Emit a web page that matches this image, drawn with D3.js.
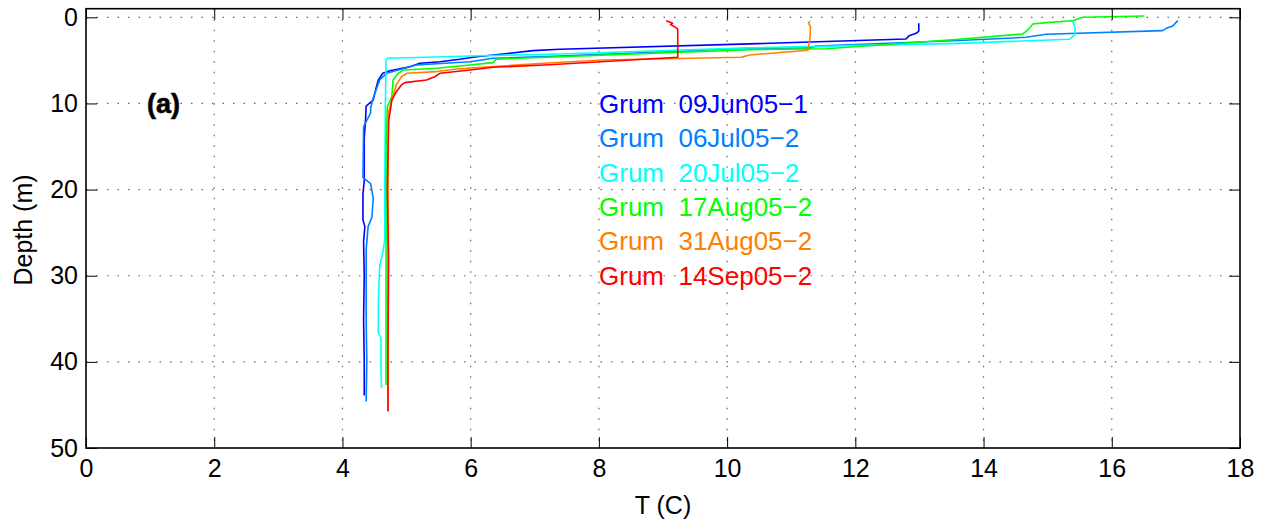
<!DOCTYPE html>
<html>
<head>
<meta charset="utf-8">
<script src="https://cdn.jsdelivr.net/npm/d3@7"></script>
<style>
  body { margin: 0; background: #fff; }
  svg text { font-family: "Liberation Sans", Arial, sans-serif; }
</style>
</head>
<body>
<svg id="chart" width="1263" height="524"></svg>
<script>
// profile data: [temperature (C), depth (m)], surface to bottom
const cast09Jun = [[12.99,0.7],[12.99,1.6],[12.95,1.86],[12.84,2.13],[12.79,2.52],[10.35,3.08],[7.39,3.71],[6.97,3.87],[6.61,4.18],[6.09,4.57],[5.83,4.87],[5.52,5.15],[5.21,5.34],[5.05,5.73],[4.74,6.2],[4.63,6.5],[4.56,7.27],[4.53,8.05],[4.48,9.6],[4.37,10.3],[4.36,12],[4.34,14],[4.34,19],[4.32,20.5],[4.32,23.5],[4.35,24.3],[4.33,26],[4.34,30],[4.33,35],[4.34,40],[4.34,43.9]];
const cast06Jul = [[17.03,0.39],[16.95,1.01],[16.85,1.28],[16.79,1.55],[14.98,1.97],[14.66,2.32],[13.62,2.7],[11.39,3.33],[11.3,3.55],[10.35,3.6],[7.39,4.5],[6.35,4.76],[5.99,5.15],[5.15,5.53],[4.69,6.5],[4.58,7.27],[4.48,9.4],[4.44,10.5],[4.44,11.1],[4.33,12.7],[4.32,18.6],[4.44,19.3],[4.48,21],[4.46,23.2],[4.40,24.3],[4.37,27],[4.37,35],[4.38,40],[4.37,44.6]];
const cast20Jul = [[15.34,0.31],[15.39,0.51],[15.43,1.28],[15.42,2.05],[15.34,2.55],[13.62,3.02],[10.35,3.55],[7.39,4.26],[5.99,4.49],[5.31,4.64],[4.70,4.76],[4.68,5.03],[4.67,10],[4.66,20],[4.66,25.8],[4.63,27.3],[4.58,28.9],[4.56,33],[4.56,36.6],[4.60,37.2],[4.60,41],[4.61,43]];
const cast17Aug = [[16.51,-0.15],[15.55,0.0],[15.39,0.39],[14.98,0.62],[14.77,0.78],[14.69,1.47],[14.61,1.94],[13.62,2.55],[11.55,3.65],[10.35,3.75],[7.39,4.57],[6.4,4.87],[6.35,5.26],[5.99,5.53],[5.47,5.92],[4.95,6.11],[4.87,6.5],[4.79,7.27],[4.77,9.2],[4.70,10.4],[4.68,15],[4.68,25],[4.68,35],[4.68,42.7]];
const cast31Aug = [[11.29,0.43],[11.27,0.7],[11.3,1.09],[11.3,1.47],[11.29,2.63],[11.26,3.83],[10.35,4.37],[10.22,4.64],[8.06,4.95],[7.2,5.3],[6.35,5.73],[5.78,6.0],[5.47,6.3],[5.0,6.5],[4.92,6.9],[4.84,7.85],[4.77,9.6],[4.72,11],[4.71,20],[4.71,30],[4.71,40],[4.71,45.8]];
const cast14Sep = [[9.05,0.39],[9.15,0.7],[9.12,0.85],[9.18,1.09],[9.23,1.36],[9.23,4.64],[7.23,5.5],[6.35,5.8],[5.99,6.11],[5.52,6.5],[5.44,6.9],[5.31,7.27],[4.97,7.58],[4.92,7.85],[4.84,8.63],[4.77,9.6],[4.75,10.7],[4.72,12],[4.70,20],[4.72,28],[4.71,38],[4.71,45.7]];

const castNames = ["Grum\u00a0\u00a009Jun05\u22121", "Grum\u00a0\u00a006Jul05\u22122", "Grum\u00a0\u00a020Jul05\u22122", "Grum\u00a0\u00a017Aug05\u22122", "Grum\u00a0\u00a031Aug05\u22122", "Grum\u00a0\u00a014Sep05\u22122"];
const castColors = ["#0000ff", "#0080ff", "#00ffff", "#00ff00", "#ff8000", "#ff0000"];
const casts = [cast09Jun, cast06Jul, cast20Jul, cast17Aug, cast31Aug, cast14Sep];

const xTicks = [0, 2, 4, 6, 8, 10, 12, 14, 16, 18];
const yTicks = [0, 10, 20, 30, 40, 50];

const svg = d3.select("#chart");
const box = { left: 86, right: 1240, top: 8.7, bottom: 448 };

const x = d3.scaleLinear().domain([0, 18]).range([box.left, box.right]);
const y = d3.scaleLinear().domain([-1, 50]).range([box.top, box.bottom]);

// dotted grid
const grid = svg.append("g")
  .attr("stroke", "#666")
  .attr("stroke-width", 1.2)
  .attr("stroke-dasharray", "1.5,9");

grid.selectAll("line.gx")
  .data(xTicks.filter(t => t > 0 && t < 18))
  .join("line")
  .attr("class", "gx")
  .attr("x1", d => x(d)).attr("x2", d => x(d))
  .attr("y1", box.top).attr("y2", box.bottom);

grid.selectAll("line.gy")
  .data(yTicks.filter(t => t < 50))
  .join("line")
  .attr("class", "gy")
  .attr("x1", box.left).attr("x2", box.right)
  .attr("y1", d => y(d)).attr("y2", d => y(d));

// profiles
const line = d3.line()
  .x(d => x(d[0]))
  .y(d => y(d[1]));

svg.append("g")
  .selectAll("path")
  .data(casts)
  .join("path")
  .attr("fill", "none")
  .attr("stroke", (d, i) => castColors[i])
  .attr("stroke-width", 1.6)
  .attr("stroke-linejoin", "round")
  .attr("d", line);

// axes with inward ticks, mirrored on top and right
const tickLen = 11;
const xAxisB = d3.axisBottom(x).tickValues(xTicks).tickSize(-tickLen).tickPadding(11);
const yAxisL = d3.axisLeft(y).tickValues(yTicks).tickSize(-tickLen).tickPadding(8);
const xAxisT = d3.axisTop(x).tickValues(xTicks).tickSize(-tickLen).tickFormat("");
const yAxisR = d3.axisRight(y).tickValues(yTicks).tickSize(-tickLen).tickFormat("");

function styleAxis(g) {
  g.select(".domain").remove();
  g.selectAll(".tick line").attr("stroke", "#000").attr("stroke-width", 1);
  g.selectAll(".tick text")
    .attr("fill", "#000")
    .attr("font-size", 25)
    .attr("font-family", "Liberation Sans, Arial, sans-serif");
}

svg.append("g").attr("transform", `translate(0,${box.bottom})`).call(xAxisB).call(styleAxis);
svg.append("g").attr("transform", `translate(${box.left},0)`).call(yAxisL).call(styleAxis);
svg.append("g").attr("transform", `translate(0,${box.top})`).call(xAxisT).call(styleAxis);
svg.append("g").attr("transform", `translate(${box.right},0)`).call(yAxisR).call(styleAxis);

// axes box
svg.append("rect")
  .attr("x", box.left).attr("y", box.top)
  .attr("width", box.right - box.left).attr("height", box.bottom - box.top)
  .attr("fill", "none")
  .attr("stroke", "#000")
  .attr("stroke-width", 1.6);

// axis labels
svg.append("text")
  .attr("x", (box.left + box.right) / 2)
  .attr("y", 514)
  .attr("text-anchor", "middle")
  .attr("font-size", 25)
  .text("T (C)");

svg.append("text")
  .attr("transform", "translate(32,230) rotate(-90)")
  .attr("text-anchor", "middle")
  .attr("font-size", 25)
  .text("Depth (m)");

// panel label
svg.append("text")
  .attr("x", 147)
  .attr("y", 113)
  .attr("font-size", 27)
  .attr("font-weight", "bold")
  .attr("stroke", "#000")
  .attr("stroke-width", 0.6)
  .text("(a)");

// legend text
svg.append("g")
  .selectAll("text")
  .data(castNames)
  .join("text")
  .attr("x", 599)
  .attr("y", (d, i) => 113 + i * 34.3)
  .attr("fill", (d, i) => castColors[i])
  .attr("font-size", 26)
  .text(d => d);
</script>
</body>
</html>
